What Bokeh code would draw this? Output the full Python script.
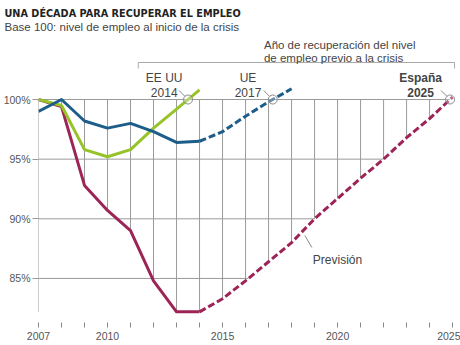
import numpy as np
from bokeh.plotting import figure
from bokeh.models import Range1d, FixedTicker, Label, Title, ColumnDataSource
from bokeh.embed import file_html
from bokeh.resources import INLINE

# ---------------- data ----------------
years_hist = [2007, 2008, 2009, 2010, 2011, 2012, 2013, 2014]
ue_hist = [99.0, 100.0, 98.2, 97.6, 98.0, 97.3, 96.4, 96.5]
eeuu_hist = [100.0, 99.5, 95.8, 95.2, 95.8, 97.6, 99.2, 100.8]
esp_hist = [100.0, 99.4, 92.8, 90.7, 89.0, 84.8, 82.2, 82.2]

ue_fc_years = [2014, 2015, 2016, 2017, 2018]
ue_fc = [96.5, 97.3, 98.6, 99.8, 100.9]

esp_fc_years = [2014, 2015, 2016, 2017, 2018, 2019, 2020, 2021, 2022, 2023, 2024, 2025]
esp_fc = [82.2, 83.3, 84.8, 86.4, 88.0, 90.0, 91.7, 93.4, 95.0, 96.8, 98.4, 100.2]

x_ticks = list(range(2007, 2026))
x_labels = {2007: "2007", 2010: "2010", 2015: "2015", 2020: "2020", 2025: "2025"}
y_ticks = [85, 90, 95, 100]
y_labels = ["85%", "90%", "95%", "100%"]

recovery_names = ["EE UU", "UE", "España"]
recovery_years = ["2014", "2017", "2025"]

title = "UNA DÉCADA PARA RECUPERAR EL EMPLEO"
subtitle = "Base 100: nivel de empleo al inicio de la crisis"
note = ["Año de recuperación del nivel", "de empleo previo a la crisis"]
forecast_label = "Previsión"

# ---------------- colours ----------------
C_UE = "#1d5d8a"
C_US = "#95c328"
C_ES = "#9c2456"
C_GRID = "#9a9a9a"
C_TXT = "#444444"

# ---------------- figure ----------------
W, H = 460, 345
FL, FR, FT, FB = 37, 459, 32, 322  # frame in pixels
x0, x1 = 2007, 2025.3
px_per_pct = 11.93
y1 = 100 + (99 - FT) / px_per_pct
y0 = 100 - (FB - 99) / px_per_pct

p = figure(width=W, height=H, output_backend="svg", toolbar_location=None,
           x_range=Range1d(x0, x1), y_range=Range1d(y0, y1),
           min_border_left=FL, min_border_right=W - FR, min_border_top=FT,
           min_border_bottom=H - FB)
p.outline_line_color = None
p.xgrid.visible = False
p.ygrid.visible = False
p.background_fill_color = "white"
p.border_fill_color = "white"


def px2x(px):
    return x0 + (px - FL) * (x1 - x0) / (FR - FL)


def px2y(py):
    return y1 - (py - FT) * (y1 - y0) / (FB - FT)


dxp = (x1 - x0) / (FR - FL)
dyp = (y1 - y0) / (FB - FT)

# ---------------- clipped grid (bounded by the Spain curve) ----------------
esp_all_years = years_hist + esp_fc_years[1:]
esp_all = esp_hist + esp_fc[1:]
esp_min = min(esp_all)

gxs, gys = [], []
for yr, v in zip(esp_all_years, esp_all):
    bottom = esp_min if yr == esp_all_years[0] else v
    if bottom < 100:
        gxs.append([float(yr), float(yr)])
        gys.append([100.0, float(bottom)])

fc_arr = np.array(esp_fc, dtype=float)
fcy = np.array(esp_fc_years, dtype=float)
for lv in y_ticks:
    gxs.append([float(x_ticks[0]), float(np.interp(lv, fc_arr, fcy))])
    gys.append([float(lv), float(lv)])

p.multi_line(xs=gxs, ys=gys, line_color=C_GRID, line_width=1)

# ---------------- series ----------------
LW = 3
p.line(years_hist, esp_hist, line_color=C_ES, line_width=LW, line_join="round")
p.line(esp_fc_years, esp_fc, line_color=C_ES, line_width=LW, line_dash="7 3")
p.line(years_hist, eeuu_hist, line_color=C_US, line_width=LW, line_join="round")
p.line(years_hist, ue_hist, line_color=C_UE, line_width=LW, line_join="round")
p.line(ue_fc_years, ue_fc, line_color=C_UE, line_width=LW, line_dash="7 3")


# ---------------- recovery points ----------------
def crossing(xs, vs, level=100.0):
    for i in range(1, len(vs)):
        if vs[i - 1] < level <= vs[i]:
            return xs[i - 1] + (level - vs[i - 1]) / (vs[i] - vs[i - 1]) * (xs[i] - xs[i - 1])
    return xs[-1]


cx = [crossing(years_hist, eeuu_hist), crossing(ue_fc_years, ue_fc), crossing(esp_fc_years, esp_fc)]
cy = [100.0, 100.0, 100.0]
p.scatter(cx, cy, size=9, fill_color="white", fill_alpha=0.3, line_color="#8a8a8a", line_width=1)
lsrc = ColumnDataSource(dict(xa=[c - 3 * dxp for c in cx], ya=[100 + 3 * dyp] * 3,
                             xb=[c - 9 * dxp for c in cx], yb=[100 + 9 * dyp] * 3))
p.segment(x0="xa", y0="ya", x1="xb", y1="yb", source=lsrc, line_color="#8a8a8a", line_width=1)

label_cx = [163, 247, 420]
for nm, yr, lx, i in zip(recovery_names, recovery_years, label_cx, range(3)):
    bold = "bold" if i == 2 else "normal"
    p.add_layout(Label(x=px2x(lx), y=px2y(77), text=nm, text_align="center",
                       text_baseline="alphabetic", text_font="Liberation Sans",
                       text_font_size="12px", text_color=C_TXT, text_font_style=bold))
    p.add_layout(Label(x=px2x(lx), y=px2y(92), text=yr, text_align="center",
                       text_baseline="alphabetic", text_font="Liberation Sans",
                       text_font_size="12px", text_color=C_TXT, text_font_style=bold))

# bracket
bx0, bx1, byt, byb = px2x(137), px2x(454), px2y(62), px2y(68)
p.line([bx0, bx0, bx1, bx1], [byb, byt, byt, byb], line_color="#aaaaaa", line_width=1)

# forecast label with leader
p.line([px2x(304), px2x(311)], [px2y(235), px2y(247)], line_color="#8a8a8a", line_width=1)
p.add_layout(Label(x=px2x(312), y=px2y(259), text=forecast_label, text_font="Liberation Sans",
                   text_font_size="12px", text_color=C_TXT, text_baseline="alphabetic"))

# note above the bracket
for i, ln in enumerate(note):
    p.add_layout(Label(x=px2x(263), y=px2y(44.5 + 12.5 * i), text=ln, text_font="Liberation Sans",
                       text_font_size="11.5px", text_color=C_TXT, text_baseline="alphabetic"))

# titles (outside the frame)
p.add_layout(Title(text=subtitle, align="left", offset=3 - FL, standoff=0,
                   text_font="Liberation Sans", text_font_size="11.5px",
                   text_font_style="normal", text_color=C_TXT), "above")
p.add_layout(Title(text=title, align="left", offset=3 - FL, standoff=0,
                   text_font="DejaVu Sans", text_font_size="9.7px",
                   text_font_style="bold", text_color="#222222"), "above")

# ---------------- axes ----------------
xa = p.xaxis[0]
xa.ticker = FixedTicker(ticks=x_ticks)
xa.major_label_overrides = {t: x_labels.get(t, "") for t in x_ticks}
xa.axis_line_color = None
xa.major_tick_in = 0
xa.major_tick_out = 5
xa.major_tick_line_color = "#888888"
xa.minor_tick_line_color = None
xa.major_label_standoff = 4
xa.major_label_text_font = "Liberation Sans"
xa.major_label_text_font_size = "10.5px"
xa.major_label_text_color = "#555555"

ya = p.yaxis[0]
ya.ticker = FixedTicker(ticks=y_ticks)
ya.major_label_overrides = {t: l for t, l in zip(y_ticks, y_labels)}
ya.axis_line_color = None
ya.major_tick_in = 0
ya.major_tick_out = 6
ya.major_tick_line_color = "#999999"
ya.minor_tick_line_color = None
ya.major_label_standoff = 2
ya.major_label_text_font = "Liberation Sans"
ya.major_label_text_font_size = "10.5px"
ya.major_label_text_color = "#555555"

open("out.html", "w").write(file_html(p, INLINE))
